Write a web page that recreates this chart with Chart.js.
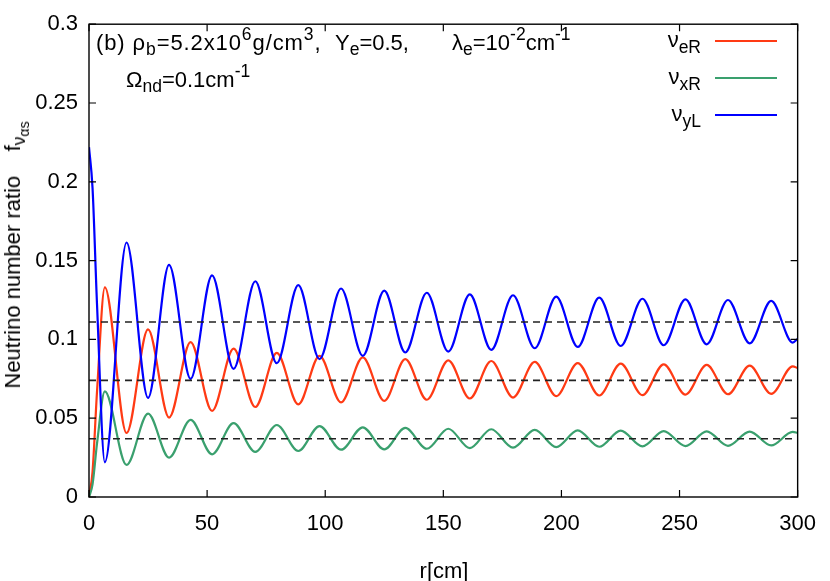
<!DOCTYPE html>
<html>
<head>
<meta charset="utf-8">
<script src="https://cdn.jsdelivr.net/npm/chart.js@4.4.1/dist/chart.umd.min.js"></script>
<style>
  html, body { margin: 0; padding: 0; background: #fff; }
  #wrap { position: relative; width: 830px; height: 581px; font-family: "Liberation Sans", Arial, sans-serif; color: #000; }
  #c { position: absolute; left: 0; top: 0; }
  .t { position: absolute; white-space: nowrap; font-size: 22px; line-height: 1; }
  .t sub { font-size: 17.5px; vertical-align: -5px; line-height: 0; }
  .t sup { font-size: 17.5px; vertical-align: 10px; line-height: 0; }
  .lg { position: absolute; white-space: nowrap; font-size: 22px; line-height: 1; text-align: right; width: 120px; }
  .lg sub { font-size: 17.5px; vertical-align: -6px; line-height: 0; }
  .key { position: absolute; height: 0; width: 62px; border-top: 2px solid; }
  #ytitle { position: absolute; white-space: nowrap; font-size: 22px; line-height: 1; transform: translate(-50%, -50%) rotate(-90deg); }
  #ytitle sub { font-size: 17.5px; vertical-align: -5px; line-height: 0; }
  #ytitle sub sub { font-size: 14px; vertical-align: -4px; }
</style>
</head>
<body>
<div id="wrap">
  <canvas id="c" width="830" height="581"></canvas>
  <div class="t" style="left:96px; top:32px; letter-spacing:0.9px;">(b) ρ<sub>b</sub>=5.2x10<sup>6</sup>g/cm<sup>3</sup>,</div>
  <div class="t" style="left:335px; top:32px;">Y<sub>e</sub>=0.5,</div>
  <div class="t" style="left:452px; top:32px;">λ<sub>e</sub>=10<sup>-2</sup>cm<sup>-1</sup></div>
  <div class="t" style="left:126px; top:69px;">Ω<sub>nd</sub>=0.1cm<sup>-1</sup></div>
  <div class="lg" style="left:581px; top:29px;">ν<sub>eR</sub></div>
  <div class="lg" style="left:581px; top:66px;">ν<sub>xR</sub></div>
  <div class="lg" style="left:581px; top:103px;">ν<sub>yL</sub></div>
  <div class="key" style="left:715px; top:40px; border-color:#ff3a14;"></div>
  <div class="key" style="left:715px; top:77px; border-color:#3aa06e;"></div>
  <div class="key" style="left:715px; top:114px; border-color:#0000ff;"></div>
  <div id="ytitle" style="left:13px; top:255px;">Neutrino number ratio&nbsp;&nbsp;&nbsp; f<sub>ν<sub>αs</sub></sub></div>
  <div class="t" style="left:444px; top:571px; transform:translate(-50%,-50%);">r[cm]</div>
</div>
<script>
// r positions (cm) of the points (extrema of the oscillation)
const r = [0, 1.5, 3.4, 6.7, 15.9, 25.0, 33.9, 43.0, 52.1, 61.2, 70.4, 79.5, 88.6, 97.6, 106.7, 115.9, 125.0, 133.9, 143.0, 152.1, 161.2, 170.3, 179.5, 188.7, 197.8, 206.9, 216.0, 225.1, 234.3, 243.3, 252.5, 261.5, 270.5, 279.7, 288.8, 297.9, 300];

const f_eR = [0, 0.016, 0.067, 0.133, 0.0406, 0.1063, 0.0504, 0.0983, 0.0546, 0.0942, 0.0571, 0.0915, 0.0588, 0.0896, 0.0600, 0.0886, 0.0610, 0.0875, 0.0617, 0.0867, 0.0625, 0.0863, 0.0631, 0.0857, 0.0640, 0.0850, 0.0644, 0.0846, 0.0646, 0.0842, 0.0650, 0.0838, 0.0652, 0.0834, 0.0654, 0.0829, 0.0818];

const f_xR = [0, 0.008, 0.034, 0.067, 0.0204, 0.0529, 0.0250, 0.0490, 0.0271, 0.0469, 0.0286, 0.0457, 0.0292, 0.0450, 0.0300, 0.0442, 0.0302, 0.0438, 0.0306, 0.0433, 0.0310, 0.0430, 0.0313, 0.0426, 0.0317, 0.0423, 0.0319, 0.0421, 0.0321, 0.0418, 0.0323, 0.0417, 0.0325, 0.0415, 0.0327, 0.0413, 0.0406];

const f_yL = [0.222, 0.196, 0.122, 0.022, 0.1615, 0.0629, 0.1473, 0.0750, 0.1406, 0.0813, 0.1369, 0.0849, 0.1344, 0.0875, 0.1323, 0.0896, 0.1309, 0.0917, 0.1296, 0.0923, 0.1286, 0.0934, 0.1280, 0.0944, 0.1271, 0.0952, 0.1265, 0.0958, 0.1258, 0.0963, 0.1254, 0.0969, 0.1250, 0.0975, 0.1244, 0.0980, 0.1004];

// equilibrium (dashed) levels
const eqLevels = [0.111, 0.074, 0.037];
const rRange = [0, 300];

const xTicks = [0, 50, 100, 150, 200, 250, 300];
const yTicks = [0, 0.05, 0.1, 0.15, 0.2, 0.25, 0.3];

const toPts = (xs, ys) => xs.map((x, i) => ({ x: x, y: ys[i] }));

const curve = (data, color, order) => ({
  data: data, borderColor: color, borderWidth: 2.2, pointRadius: 0,
  cubicInterpolationMode: 'monotone', fill: false, order: order
});

const datasets = [];
eqLevels.forEach(v => {
  datasets.push({
    data: rRange.map(x => ({ x: x, y: v })), borderColor: '#222', borderWidth: 1.6,
    borderDash: [7, 5], pointRadius: 0, fill: false, order: 0
  });
});
datasets.push(curve(toPts(r, f_yL), '#0000ff', 1));
datasets.push(curve(toPts(r, f_xR), '#3aa06e', 2));
datasets.push(curve(toPts(r, f_eR), '#ff3a14', 3));

// draw border + inward ticks on all four sides
const frame = {
  id: 'frame',
  afterDatasetsDraw(chart) {
    const { ctx, chartArea: a, scales } = chart;
    ctx.save();
    ctx.strokeStyle = '#000';
    ctx.lineWidth = 1.2;
    const L = 7;
    ctx.beginPath();
    xTicks.forEach(v => {
      const px = scales.x.getPixelForValue(v);
      ctx.moveTo(px, a.bottom); ctx.lineTo(px, a.bottom - L);
      ctx.moveTo(px, a.top); ctx.lineTo(px, a.top + L);
    });
    yTicks.forEach(v => {
      const py = scales.y.getPixelForValue(v);
      ctx.moveTo(a.left, py); ctx.lineTo(a.left + L, py);
      ctx.moveTo(a.right, py); ctx.lineTo(a.right - L, py);
    });
    ctx.stroke();
    ctx.lineWidth = 1.4;
    ctx.strokeRect(a.left, a.top, a.right - a.left, a.bottom - a.top);
    ctx.restore();
  }
};

new Chart(document.getElementById('c'), {
  type: 'line',
  data: { datasets: datasets },
  options: {
    responsive: false,
    animation: false,
    devicePixelRatio: 1,
    layout: { padding: { left: 0, right: 30, top: 17, bottom: 0 } },
    plugins: { legend: { display: false }, tooltip: { enabled: false } },
    scales: {
      x: {
        type: 'linear', min: 0, max: 300,
        afterBuildTicks: s => { s.ticks = xTicks.map(v => ({ value: v })); },
        afterFit: s => { s.height = 84; },
        grid: { display: false, drawTicks: false },
        border: { display: false },
        ticks: { color: '#000', font: { family: 'Liberation Sans', size: 22 }, padding: 14, maxRotation: 0 }
      },
      y: {
        type: 'linear', min: 0, max: 0.3,
        afterBuildTicks: s => { s.ticks = yTicks.map(v => ({ value: v })); },
        afterFit: s => { s.width = 89; },
        grid: { display: false, drawTicks: false },
        border: { display: false },
        ticks: { color: '#000', font: { family: 'Liberation Sans', size: 22 }, padding: 11,
                 callback: v => String(Math.round(v * 100) / 100) }
      }
    }
  },
  plugins: [frame]
});
</script>
</body>
</html>
